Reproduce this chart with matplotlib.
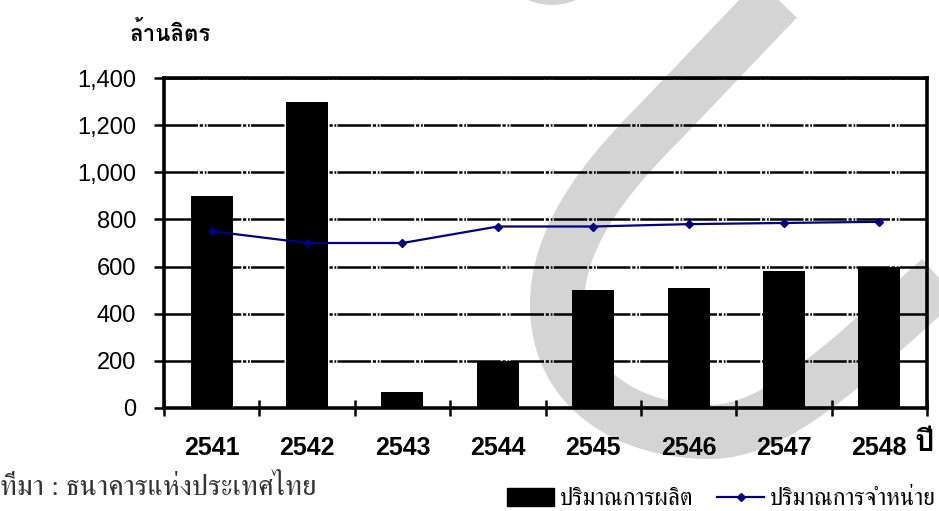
import numpy as np
import matplotlib
matplotlib.use("Agg")
import matplotlib.pyplot as plt
from matplotlib.path import Path
from matplotlib.patches import PathPatch, Ellipse, Patch
from matplotlib.lines import Line2D
import matplotlib.transforms as mtransforms
from matplotlib.ticker import FuncFormatter, FixedLocator

# --- data -------------------------------------------------------------
years = ["2541", "2542", "2543", "2544", "2545", "2546", "2547", "2548"]
production = [900, 1300, 70, 200, 500, 510, 580, 600]      # ปริมาณการผลิต
sales = [750, 700, 700, 770, 770, 780, 785, 790]            # ปริมาณการจำหน่าย
y_ticks = [0, 200, 400, 600, 800, 1000, 1200, 1400]

unit_label = "ล้านลิตร"
x_unit_label = "ปี"
source_label = "ที่มา : ธนาคารแห่งประเทศไทย"
legend_labels = ["ปริมาณการผลิต", "ปริมาณการจำหน่าย"]

# --- fonts ------------------------------------------------------------
num_fam = ["Liberation Sans", "DejaVu Sans"]
thai_bold = ["Loma", "Noto Sans Thai", "DejaVu Sans"]
thai_serif = ["FreeSerif", "Noto Serif Thai", "DejaVu Sans"]

W, H = 939, 511
fig = plt.figure(figsize=(W / 100, H / 100), dpi=100)
fig.patch.set_facecolor("white")

# pixel (y down) -> figure transform for decorations
px = mtransforms.Affine2D().scale(1 / W, -1 / H).translate(0, 1) + fig.transFigure

# background grey swoosh
verts = [(805, -30), (660, 122),
         (600, 182), (557, 240), (557, 305),
         (557, 390), (630, 432), (710, 432),
         (775, 432), (845, 365), (930, 288),
         (990, 235)]
codes = [Path.MOVETO, Path.LINETO,
         Path.CURVE4, Path.CURVE4, Path.CURVE4,
         Path.CURVE4, Path.CURVE4, Path.CURVE4,
         Path.CURVE4, Path.CURVE4, Path.CURVE4,
         Path.LINETO]
swoosh = PathPatch(Path(verts, codes), facecolor="none", edgecolor="#d4d4d4",
                   lw=54 * 0.72, capstyle="butt", joinstyle="round",
                   transform=px, zorder=-2)
fig.add_artist(swoosh)
blob = Ellipse((552, -28), 90, 66, facecolor="#d4d4d4", edgecolor="none",
               transform=px, zorder=-2)
fig.add_artist(blob)

# --- axes -------------------------------------------------------------
ax = fig.add_axes([164 / W, 1 - 408 / H, 763 / W, 330 / H])
ax.set_facecolor("none")

x = np.arange(len(years))
ax.bar(x, production, width=0.44, color="black", zorder=2)
ax.plot(x, sales, color="#000080", lw=1.6, marker="D", ms=4.5,
        markeredgecolor="#000080", zorder=3)

ax.set_xlim(-0.5, len(years) - 0.5)
ax.set_ylim(0, 1400)
ax.set_yticks(y_ticks)
ax.yaxis.set_major_formatter(FuncFormatter(lambda v, p: f"{int(v):,}"))

ax.set_axisbelow(True)
ax.yaxis.grid(True, color="black", lw=1.8,
              linestyle=(0, (13.4, 0.7, 1.3, 0.7, 0.7, 0.5)))
ax.xaxis.grid(False)

for s in ax.spines.values():
    s.set_linewidth(2.6)
    s.set_color("black")

ax.set_xticks(x)
ax.set_xticklabels(years)
ax.xaxis.set_minor_locator(FixedLocator(np.arange(-0.5, len(years), 1.0)))
ax.tick_params(axis="x", which="major", length=0, pad=20)
ax.tick_params(axis="x", which="minor", direction="inout", length=11, width=1.8)
ax.tick_params(axis="y", which="major", direction="out", length=7, width=1.8, pad=13)

for lab in ax.get_xticklabels():
    lab.set_fontfamily(num_fam)
    lab.set_fontweight("bold")
    lab.set_fontsize(18)
for lab in ax.get_yticklabels():
    lab.set_fontfamily(num_fam)
    lab.set_fontsize(17)

# --- texts ------------------------------------------------------------
fig.text(170 / W, 1 - 33 / H, unit_label, ha="center", va="center",
         fontsize=16, fontweight="bold", family=thai_bold)
fig.text(915 / W, 1 - 443 / H, x_unit_label, ha="left", va="center",
         fontsize=22, fontweight="bold", family=thai_bold)
fig.text(0 / W, 1 - 488 / H, source_label, ha="left", va="center",
         fontsize=21, color="#333333", family=thai_serif)

handles = [Patch(facecolor="black", edgecolor="black"),
           Line2D([0], [0], color="#000080", lw=1.6, marker="D", ms=4,
                  markeredgecolor="#000080")]
leg = fig.legend(handles, legend_labels, loc="center left",
                 bbox_to_anchor=(507 / W, 1 - 499 / H), ncol=2,
                 frameon=False, borderpad=0, borderaxespad=0,
                 handlelength=2.0, handleheight=0.8,
                 handletextpad=0.25, columnspacing=1.0,
                 prop={"family": thai_serif, "size": 17})

fig.savefig("out.png", dpi=100)
